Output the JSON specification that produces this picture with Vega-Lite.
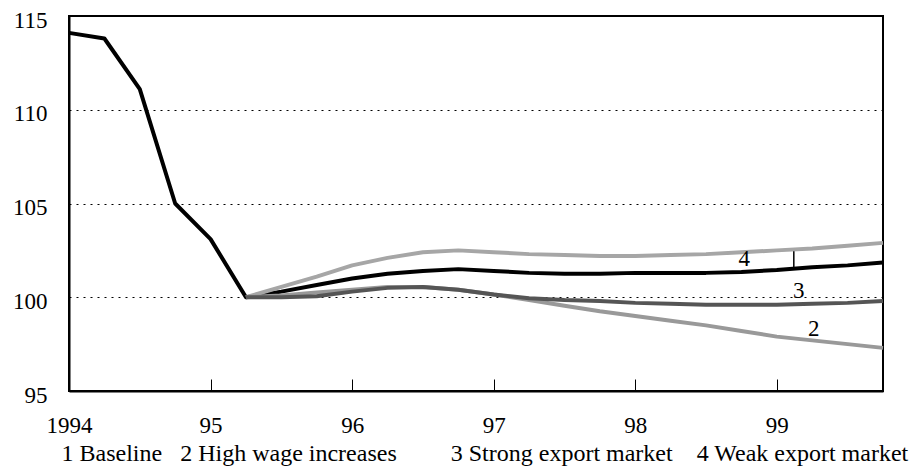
{
  "$schema": "https://vega.github.io/schema/vega-lite/v6.json",
  "width": 814,
  "height": 375,
  "autosize": {"type": "none"},
  "padding": {"left": 69, "top": 16, "right": 35, "bottom": 75},
  "background": "white",
  "config": {"view": {"stroke": "black", "strokeWidth": 2}, "font": "'Liberation Serif', 'Times New Roman', serif"},
  "datasets": {
    "series": [
      {"series": "1", "year": 1994.0, "value": 114.1},
      {"series": "1", "year": 1994.25, "value": 113.8},
      {"series": "1", "year": 1994.5, "value": 111.1},
      {"series": "1", "year": 1994.75, "value": 105.0},
      {"series": "1", "year": 1995.0, "value": 103.1},
      {"series": "1", "year": 1995.25, "value": 100.0},
      {"series": "1", "year": 1995.5, "value": 100.3},
      {"series": "1", "year": 1995.75, "value": 100.65},
      {"series": "1", "year": 1996.0, "value": 101.0},
      {"series": "1", "year": 1996.25, "value": 101.25},
      {"series": "1", "year": 1996.5, "value": 101.4},
      {"series": "1", "year": 1996.75, "value": 101.5},
      {"series": "1", "year": 1997.0, "value": 101.4},
      {"series": "1", "year": 1997.25, "value": 101.3},
      {"series": "1", "year": 1997.5, "value": 101.25},
      {"series": "1", "year": 1997.75, "value": 101.25},
      {"series": "1", "year": 1998.0, "value": 101.3},
      {"series": "1", "year": 1998.25, "value": 101.3},
      {"series": "1", "year": 1998.5, "value": 101.3},
      {"series": "1", "year": 1998.75, "value": 101.35},
      {"series": "1", "year": 1999.0, "value": 101.45},
      {"series": "1", "year": 1999.25, "value": 101.6},
      {"series": "1", "year": 1999.5, "value": 101.7},
      {"series": "1", "year": 1999.75, "value": 101.85},
      {"series": "4", "year": 1995.25, "value": 100.0},
      {"series": "4", "year": 1995.5, "value": 100.55},
      {"series": "4", "year": 1995.75, "value": 101.1},
      {"series": "4", "year": 1996.0, "value": 101.7},
      {"series": "4", "year": 1996.25, "value": 102.1},
      {"series": "4", "year": 1996.5, "value": 102.4},
      {"series": "4", "year": 1996.75, "value": 102.5},
      {"series": "4", "year": 1997.0, "value": 102.4},
      {"series": "4", "year": 1997.25, "value": 102.3},
      {"series": "4", "year": 1997.5, "value": 102.25},
      {"series": "4", "year": 1997.75, "value": 102.2},
      {"series": "4", "year": 1998.0, "value": 102.2},
      {"series": "4", "year": 1998.25, "value": 102.25},
      {"series": "4", "year": 1998.5, "value": 102.3},
      {"series": "4", "year": 1998.75, "value": 102.4},
      {"series": "4", "year": 1999.0, "value": 102.5},
      {"series": "4", "year": 1999.25, "value": 102.6},
      {"series": "4", "year": 1999.5, "value": 102.75},
      {"series": "4", "year": 1999.75, "value": 102.9},
      {"series": "2", "year": 1995.25, "value": 100.0},
      {"series": "2", "year": 1995.5, "value": 100.1},
      {"series": "2", "year": 1995.75, "value": 100.25},
      {"series": "2", "year": 1996.0, "value": 100.4},
      {"series": "2", "year": 1996.25, "value": 100.55},
      {"series": "2", "year": 1996.5, "value": 100.55},
      {"series": "2", "year": 1996.75, "value": 100.4},
      {"series": "2", "year": 1997.0, "value": 100.15},
      {"series": "2", "year": 1997.25, "value": 99.85},
      {"series": "2", "year": 1997.5, "value": 99.55},
      {"series": "2", "year": 1997.75, "value": 99.25},
      {"series": "2", "year": 1998.0, "value": 99.0},
      {"series": "2", "year": 1998.25, "value": 98.75},
      {"series": "2", "year": 1998.5, "value": 98.5},
      {"series": "2", "year": 1998.75, "value": 98.2},
      {"series": "2", "year": 1999.0, "value": 97.9},
      {"series": "2", "year": 1999.25, "value": 97.7},
      {"series": "2", "year": 1999.5, "value": 97.5},
      {"series": "2", "year": 1999.75, "value": 97.3},
      {"series": "3", "year": 1995.25, "value": 100.0},
      {"series": "3", "year": 1995.5, "value": 100.0},
      {"series": "3", "year": 1995.75, "value": 100.05},
      {"series": "3", "year": 1996.0, "value": 100.3},
      {"series": "3", "year": 1996.25, "value": 100.5},
      {"series": "3", "year": 1996.5, "value": 100.55},
      {"series": "3", "year": 1996.75, "value": 100.4},
      {"series": "3", "year": 1997.0, "value": 100.15},
      {"series": "3", "year": 1997.25, "value": 99.95},
      {"series": "3", "year": 1997.5, "value": 99.85},
      {"series": "3", "year": 1997.75, "value": 99.8},
      {"series": "3", "year": 1998.0, "value": 99.7},
      {"series": "3", "year": 1998.25, "value": 99.65},
      {"series": "3", "year": 1998.5, "value": 99.6},
      {"series": "3", "year": 1998.75, "value": 99.6},
      {"series": "3", "year": 1999.0, "value": 99.6},
      {"series": "3", "year": 1999.25, "value": 99.65},
      {"series": "3", "year": 1999.5, "value": 99.7},
      {"series": "3", "year": 1999.75, "value": 99.8}
    ],
    "labels": [
      {"label": "4", "year": 1998.77, "value": 102.06},
      {"label": "3", "year": 1999.155, "value": 100.35},
      {"label": "2", "year": 1999.26, "value": 98.32}
    ],
    "leader": [
      {"year": 1999.12, "top": 102.45, "bottom": 101.55}
    ]
  },
  "layer": [
    {
      "data": {"name": "series"},
      "mark": {"type": "line", "strokeWidth": 4, "strokeJoin": "round"},
      "encoding": {
        "x": {
          "field": "year", "type": "quantitative",
          "scale": {"domain": [1994, 1999.75], "nice": false, "zero": false},
          "axis": {
            "values": [1994, 1995, 1996, 1997, 1998, 1999],
            "labelExpr": "datum.value == 1994 ? '1994' : slice(toString(datum.value), 2)",
            "tickSize": -12, "tickColor": "black", "tickWidth": 1,
            "domainColor": "black", "domainWidth": 2, "grid": false,
            "labelFontSize": 23, "labelColor": "black",
            "labelPadding": 35, "labelFlush": false, "labelOverlap": false,
            "title": "1 Baseline\u00a0\u00a0\u00a02 High wage increases\u00a0\u00a0\u00a0\u00a0\u00a0\u00a0\u00a0\u00a0\u00a03 Strong export market\u00a0\u00a0\u00a0\u00a04 Weak export market",
            "titleFontSize": 24, "titleFontWeight": "normal",
            "titleColor": "black", "titleAnchor": "start", "titleAlign": "left",
            "titleX": -8, "titleY": 69, "titleBaseline": "alphabetic"
          }
        },
        "y": {
          "field": "value", "type": "quantitative",
          "scale": {"domain": [95, 115], "nice": false, "zero": false},
          "axis": {
            "values": [95, 100, 105, 110, 115],
            "grid": true, "gridColor": "black", "gridDash": [2, 5], "gridWidth": 1,
            "ticks": false, "domainColor": "black", "domainWidth": 2,
            "labelFontSize": 23, "labelColor": "black",
            "labelPadding": 22, "labelFlush": false, "labelOverlap": false, "labelOffset": 4,
            "title": null
          }
        },
        "color": {
          "field": "series", "type": "nominal",
          "scale": {"domain": ["4", "2", "3", "1"], "range": ["#a6a6a6", "#999999", "#555555", "#000000"]},
          "legend": null
        }
      }
    },
    {
      "data": {"name": "labels"},
      "mark": {"type": "text", "fontSize": 23, "color": "black"},
      "encoding": {
        "x": {"field": "year", "type": "quantitative"},
        "y": {"field": "value", "type": "quantitative"},
        "text": {"field": "label"}
      }
    },
    {
      "data": {"name": "leader"},
      "mark": {"type": "rule", "strokeWidth": 1.5, "color": "black"},
      "encoding": {
        "x": {"field": "year", "type": "quantitative"},
        "y": {"field": "top", "type": "quantitative"},
        "y2": {"field": "bottom"}
      }
    }
  ]
}
